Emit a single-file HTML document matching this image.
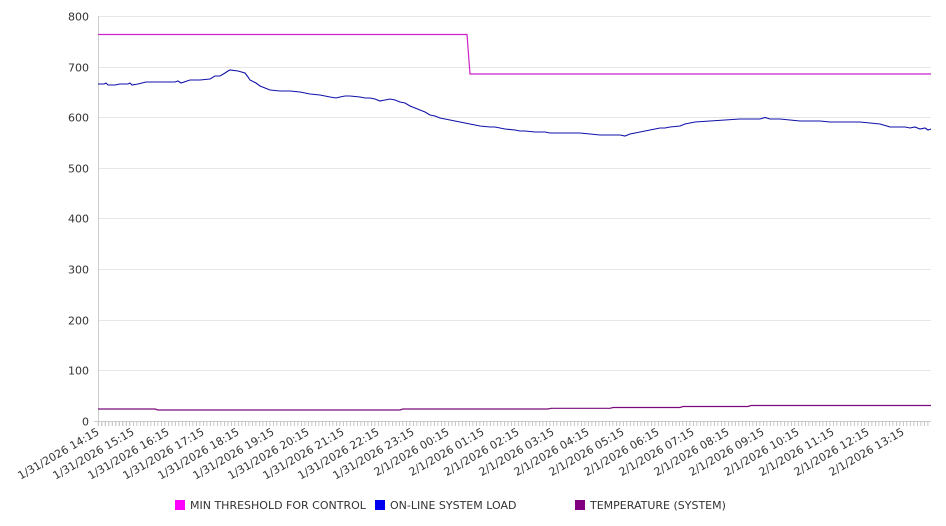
<!DOCTYPE html>
<html><head><meta charset="utf-8"><style>
body{margin:0;background:#fff;}
svg{display:block;font-family:"DejaVu Sans","Liberation Sans",sans-serif;}
</style></head><body>
<svg width="946" height="526" viewBox="0 0 946 526">
<g stroke="#e6e6e6" stroke-width="1">
<line x1="98" x2="931" y1="16.5" y2="16.5"/>
<line x1="98" x2="931" y1="67.5" y2="67.5"/>
<line x1="98" x2="931" y1="117.5" y2="117.5"/>
<line x1="98" x2="931" y1="168.5" y2="168.5"/>
<line x1="98" x2="931" y1="218.5" y2="218.5"/>
<line x1="98" x2="931" y1="269.5" y2="269.5"/>
<line x1="98" x2="931" y1="320.5" y2="320.5"/>
<line x1="98" x2="931" y1="370.5" y2="370.5"/>
</g>
<line x1="98.5" x2="98.5" y1="16" y2="421" stroke="#ccc"/>
<line x1="94" x2="931" y1="421.5" y2="421.5" stroke="#ccc"/>
<path id="tk" d="" stroke="#ccc"/>
<g stroke="#ccc" stroke-width="0.6">
<path d="M98 421v5M101.5 421v5M105 421v5M108.5 421v5M112 421v5M115.5 421v5M119 421v5M122.5 421v5M126 421v5M129.5 421v5"/>
</g>
<pattern id="p" x="98" y="0" width="3.5" height="10" patternUnits="userSpaceOnUse"><rect x="0" y="0" width="0.8" height="10" fill="#bbb"/></pattern>
<rect x="98" y="421.5" width="833" height="4.5" fill="url(#p)"/>
<g font-size="11" fill="#333" text-anchor="end">
<text x="89" y="20.5">800</text><text x="89" y="71.5">700</text><text x="89" y="121.5">600</text><text x="89" y="172.5">500</text><text x="89" y="222.5">400</text><text x="89" y="273.5">300</text><text x="89" y="324.5">200</text><text x="89" y="374.5">100</text><text x="89" y="425.5">0</text>
</g>
<g font-size="11" fill="#333" text-anchor="end">
<text transform="translate(100,434) rotate(-30)">1/31/2026 14:15</text>
<text transform="translate(135,434) rotate(-30)">1/31/2026 15:15</text>
<text transform="translate(170,434) rotate(-30)">1/31/2026 16:15</text>
<text transform="translate(205,434) rotate(-30)">1/31/2026 17:15</text>
<text transform="translate(240,434) rotate(-30)">1/31/2026 18:15</text>
<text transform="translate(275,434) rotate(-30)">1/31/2026 19:15</text>
<text transform="translate(310,434) rotate(-30)">1/31/2026 20:15</text>
<text transform="translate(345,434) rotate(-30)">1/31/2026 21:15</text>
<text transform="translate(380,434) rotate(-30)">1/31/2026 22:15</text>
<text transform="translate(415,434) rotate(-30)">1/31/2026 23:15</text>
<text transform="translate(450,434) rotate(-30)">2/1/2026 00:15</text>
<text transform="translate(485,434) rotate(-30)">2/1/2026 01:15</text>
<text transform="translate(520,434) rotate(-30)">2/1/2026 02:15</text>
<text transform="translate(555,434) rotate(-30)">2/1/2026 03:15</text>
<text transform="translate(590,434) rotate(-30)">2/1/2026 04:15</text>
<text transform="translate(625,434) rotate(-30)">2/1/2026 05:15</text>
<text transform="translate(660,434) rotate(-30)">2/1/2026 06:15</text>
<text transform="translate(695,434) rotate(-30)">2/1/2026 07:15</text>
<text transform="translate(730,434) rotate(-30)">2/1/2026 08:15</text>
<text transform="translate(765,434) rotate(-30)">2/1/2026 09:15</text>
<text transform="translate(800,434) rotate(-30)">2/1/2026 10:15</text>
<text transform="translate(835,434) rotate(-30)">2/1/2026 11:15</text>
<text transform="translate(870,434) rotate(-30)">2/1/2026 12:15</text>
<text transform="translate(905,434) rotate(-30)">2/1/2026 13:15</text>
</g>
<polyline fill="none" stroke="#cc22cc" stroke-width="1.2" points="98,34.5 467,34.5 470,74 931,74"/>
<polyline fill="none" stroke="#1010aa" stroke-width="1.1" points="98,84 104,84 106,83 108,85 115,85 120,84 128,84 130,83 132,85 138,84 142,83 146,82 160,82 175,82 178,81 181,83 190,80 200,80 210,79 215,76 220,76 225,73 228,71 230,70 238,71 245,73 248,77 250,80 256,83 260,86 265,88 270,90 280,91 290,91 300,92 310,94 320,95 330,97 336,98 340,97 345,96 350,96 360,97 365,98 370,98 375,99 380,101 385,100 390,99 395,100 400,102 405,103 410,106 415,108 420,110 425,112 430,115 435,116 440,118 445,119 450,120 455,121 460,122 465,123 470,124 475,125 480,126 490,127 495,127 500,128 505,129 515,130 520,131 525,131 535,132 545,132 550,133 560,133 570,133 580,133 590,134 600,135 610,135 615,135 620,135 625,136 630,134 640,132 650,130 660,128 665,128 670,127 680,126 685,124 690,123 695,122 710,121 725,120 740,119 750,119 760,119 765,117.5 770,119 780,119 790,120 800,121 810,121 820,121 830,122 840,122 850,122 860,122 870,123 880,124 890,127 900,127 905,127 910,128 915,127 920,129 925,128 928,130 931,129"/>
<polyline fill="none" stroke="#7a0a7a" stroke-width="1.2" points="98,409 155,409 158,410 400,410 403,409 548,409 551,408.3 610,408.3 613,407.5 680,407.5 683,406.5 748,406.5 751,405.5 931,405.5"/>
<g font-size="11" fill="#333">
<rect x="175" y="500" width="10" height="10" fill="#ff00ff"/><text x="190" y="509">MIN THRESHOLD FOR CONTROL</text>
<rect x="375" y="500" width="10" height="10" fill="#0000ee"/><text x="390" y="509">ON-LINE SYSTEM LOAD</text>
<rect x="575" y="500" width="10" height="10" fill="#800080"/><text x="590" y="509">TEMPERATURE (SYSTEM)</text>
</g>
</svg>
</body></html>
